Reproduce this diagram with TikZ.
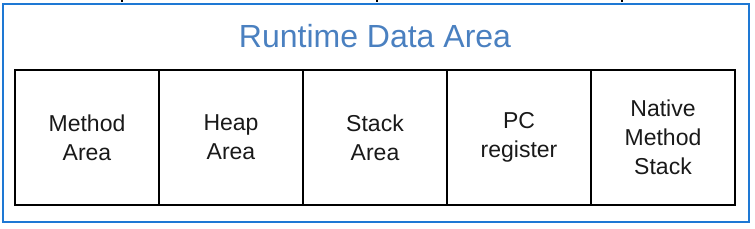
\documentclass[tikz,border=0pt]{standalone}
\usepackage{fontspec}
\setmainfont{Liberation Sans}
\definecolor{frameblue}{RGB}{30,120,212}
\definecolor{titleblue}{RGB}{74,128,192}
\definecolor{textdark}{RGB}{25,25,25}
\begin{document}
\begin{tikzpicture}[x=1pt,y=-1pt,
  cell/.style={draw=black, line width=1.5pt, minimum width=144pt, minimum height=135pt,
    inner sep=0pt, align=center, font=\fontsize{23}{29}\selectfont, text=textdark},
  stub/.style={draw=black, line width=1.2pt}]
\useasboundingbox (0,0) rectangle (755,228);
\node[draw=frameblue, line width=2pt, minimum width=746.5pt, minimum height=218pt,
  inner sep=0pt, anchor=north west] (outer) at (1.5,2.5) {};
\node[font=\fontsize{32}{36}\selectfont, text=titleblue] (title) at (375,36.5) {Runtime Data Area};
\node[cell] (method) at (87,137.5) {Method\\Area};
\node[cell] (heap) at (231,137.5) {Heap\\Area};
\node[cell] (stack) at (375,137.5) {Stack\\Area};
\node[cell] (pc) at (519,137.5) {PC\\register};
\node[cell] (native) at (663,137.5) {Native\\Method\\Stack};
\coordinate (s1a) at (122,0); \coordinate (s1b) at (122,2);
\coordinate (s2a) at (377,0); \coordinate (s2b) at (377,2);
\coordinate (s3a) at (622,0); \coordinate (s3b) at (622,2);
\draw[stub] (s1a) -- (s1b);
\draw[stub] (s2a) -- (s2b);
\draw[stub] (s3a) -- (s3b);
\end{tikzpicture}
\end{document}
